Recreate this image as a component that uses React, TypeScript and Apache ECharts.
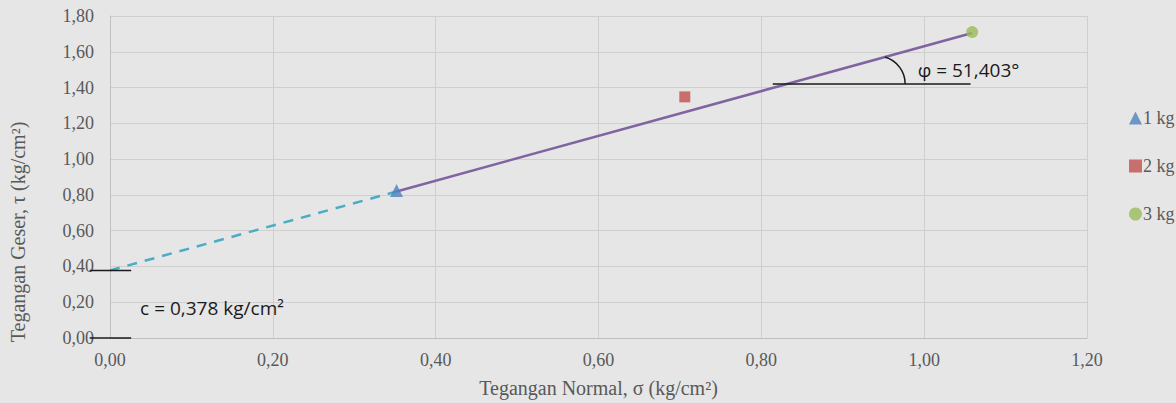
import React, { useEffect, useRef } from "react";
import * as echarts from "echarts";

const xTicks = [0, 0.2, 0.4, 0.6, 0.8, 1.0, 1.2];
const yTicks = [0, 0.2, 0.4, 0.6, 0.8, 1.0, 1.2, 1.4, 1.6, 1.8];
const seriesNames = ["1 kg", "2 kg", "3 kg"];
const sigma = [0.352, 0.706, 1.059];
const tau = [0.824, 1.348, 1.71];
const cohesion = 0.378;
const phiDeg = 51.403;
const dashedX = [0, 0.352];
const solidX = [0.352, 1.059];
const cMarkX = [-0.025, 0.026];
const angleLineX = [0.814, 1.057];
const angleLineY = 1.42;

const fmt = (v: number) => v.toFixed(2).replace(".", ",");
const fitY = (x: number) => cohesion + Math.tan((phiDeg * Math.PI) / 180) * x;

export default function App() {
  const ref = useRef<HTMLDivElement>(null);
  useEffect(() => {
    document.body.style.margin = "0";
    const chart = echarts.init(ref.current!, null, { renderer: "svg" });
    const serif = "Liberation Serif";
    const gray = "#595959";
    const colors = ["#4f81bd", "#c0504d", "#9bbb59"];
    const symbols = ["triangle", "rect", "circle"];
    const sizes = [13, 11, 12];
    chart.setOption({
      animation: false,
      backgroundColor: "#e6e6e6",
      grid: { left: 110, right: 89, top: 16, bottom: 64 },
      xAxis: {
        type: "value",
        min: 0,
        max: 1.2,
        interval: 0.2,
        name: "Tegangan Normal, σ (kg/cm²)",
        nameLocation: "middle",
        nameGap: 40,
        nameTextStyle: { fontFamily: serif, fontSize: 20, color: gray },
        axisLabel: { fontFamily: serif, fontSize: 18, color: gray, margin: 13, formatter: (v: number) => fmt(v) },
        axisLine: { lineStyle: { color: "#bfbfbf" } },
        axisTick: { show: false },
        splitLine: { lineStyle: { color: "#cfcfcf" } },
      },
      yAxis: {
        type: "value",
        min: 0,
        max: 1.8,
        interval: 0.2,
        name: "Tegangan Geser, τ (kg/cm²)",
        nameLocation: "middle",
        nameGap: 82,
        nameTextStyle: { fontFamily: serif, fontSize: 20, color: gray, padding: [0, 110, 0, 0] },
        axisLabel: { fontFamily: serif, fontSize: 18, color: gray, margin: 16, formatter: (v: number) => fmt(v) },
        axisLine: { show: true, lineStyle: { color: "#bfbfbf" } },
        axisTick: { show: false },
        splitLine: { lineStyle: { color: "#cfcfcf" } },
      },
      legend: {
        data: seriesNames,
        orient: "vertical",
        left: 1124,
        top: 104,
        itemGap: 30,
        itemWidth: 13,
        itemHeight: 13,
        textStyle: { fontFamily: serif, fontSize: 18, color: gray, padding: [0, 0, 0, -4] },
      },
      series: [
        {
          type: "line",
          data: dashedX.map((x) => [x, fitY(x)]),
          symbol: "none",
          silent: true,
          lineStyle: { color: "#4bacc6", width: 2.5, type: [10, 8] },
          z: 2,
        },
        {
          type: "line",
          data: solidX.map((x) => [x, fitY(x)]),
          symbol: "none",
          silent: true,
          lineStyle: { color: "#8064a2", width: 2.5 },
          z: 2,
        },
        ...seriesNames.map((n, i) => ({
          type: "scatter",
          name: n,
          data: [[sigma[i], tau[i]]],
          symbol: symbols[i],
          symbolSize: sizes[i],
          itemStyle: { color: colors[i] },
          z: 5,
        })),
      ],
    });
    const px = (x: number, y: number) => chart.convertToPixel({ gridIndex: 0 }, [x, y]) as number[];
    const hLine = (x0: number, x1: number, y: number) => {
      const a = px(x0, y);
      const b = px(x1, y);
      return {
        type: "line",
        shape: { x1: a[0], y1: a[1], x2: b[0], y2: b[1] },
        style: { stroke: "#1a1a1a", lineWidth: 1.5 },
        silent: true,
        z: 10,
      };
    };
    const tanPhi = Math.tan((phiDeg * Math.PI) / 180);
    const xInt = (angleLineY - cohesion) / tanPhi;
    const c = px(xInt, angleLineY);
    const p1 = px(solidX[0], fitY(solidX[0]));
    const p2 = px(solidX[1], fitY(solidX[1]));
    const a = Math.atan2(p2[1] - p1[1], p2[0] - p1[0]);
    const dx = Math.cos(a);
    const dy = Math.sin(a);
    const arcR = 28;
    const reach = 118;
    const cx = c[0] + reach - arcR;
    const cy = c[1];
    const ox = c[0] - cx;
    const oy = c[1] - cy;
    const B = 2 * (ox * dx + oy * dy);
    const C = ox * ox + oy * oy - arcR * arcR;
    const t = (-B + Math.sqrt(Math.max(0, B * B - 4 * C))) / 2;
    const ix = c[0] + t * dx;
    const iy = c[1] + t * dy;
    const startAngle = Math.atan2(iy - cy, ix - cx);
    const tPix = px(0.037, 0.17);
    const phiPix = px(0.992, 1.5);
    chart.setOption({
      graphic: [
        hLine(cMarkX[0], cMarkX[1], cohesion),
        hLine(cMarkX[0], cMarkX[1], 0),
        hLine(angleLineX[0], angleLineX[1], angleLineY),
        {
          type: "arc",
          shape: { cx, cy, r: arcR, startAngle, endAngle: 0, clockwise: true },
          style: { stroke: "#1a1a1a", lineWidth: 1.5, fill: null },
          silent: true,
          z: 10,
        },
        {
          type: "text",
          x: phiPix[0],
          y: phiPix[1],
          style: { text: "φ = 51,403°", font: '19px "Open Sans"', fill: "#1a1a1a", verticalAlign: "middle" },
          silent: true,
          z: 10,
        },
        {
          type: "text",
          x: tPix[0],
          y: tPix[1],
          style: { text: "c = 0,378 kg/cm²", font: '19px "Open Sans"', fill: "#1a1a1a", verticalAlign: "middle" },
          silent: true,
          z: 10,
        },
      ],
    });
    return () => chart.dispose();
  }, []);
  return <div ref={ref} style={{ width: 1176, height: 403 }} />;
}
